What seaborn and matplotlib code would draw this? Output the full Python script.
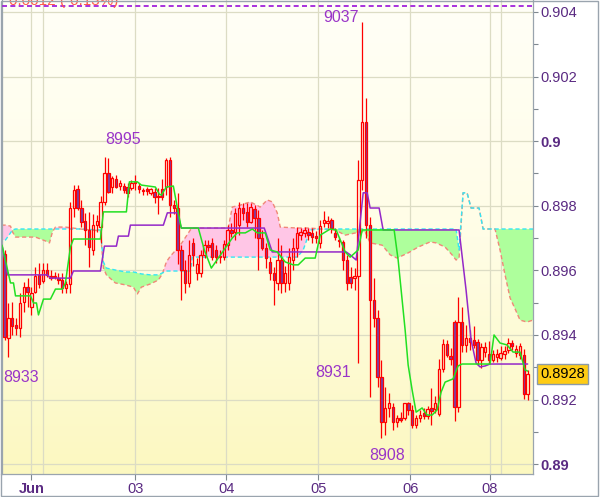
import numpy as np
import pandas as pd
import matplotlib
matplotlib.use("Agg")
import matplotlib.pyplot as plt
import seaborn as sns
from matplotlib.colors import LinearSegmentedColormap
from matplotlib.patches import Rectangle
import matplotlib.transforms as mtransforms

# ---------------- data (prices in pips, i.e. price * 10000) ----------------
opens = [8965.1, 8939.1, 8945.3, 8943.1, 8942.2, 8950.2, 8954.8, 8948.7, 8953.3, 8958.6,
         8956.7, 8960.1, 8958.2, 8957.9, 8957.6, 8957.0, 8954.5, 8955.8, 8979.3, 8985.2,
         8979.3, 8975.3, 8972.5, 8966.3, 8974.0, 8973.4, 8981.2, 8990.1, 8985.8, 8988.3,
         8986.1, 8986.1, 8985.8, 8985.5, 8987.0, 8986.1, 8984.9, 8985.2, 8983.9, 8984.3,
         8983.0, 8985.2, 8985.8, 8994.2, 8980.2, 8979.3, 8966.3, 8960.1, 8956.1, 8968.5,
         8959.2, 8959.2, 8964.7, 8967.8, 8968.5, 8966.3, 8964.0, 8964.0, 8967.8, 8972.5,
         8971.9, 8974.0, 8979.3, 8978.1, 8975.0, 8979.0, 8976.2, 8970.0, 8966.9, 8962.6,
         8959.2, 8956.1, 8963.2, 8956.1, 8956.1, 8963.2, 8966.9, 8970.9, 8971.6, 8971.9,
         8971.6, 8970.6, 8968.5, 8974.7, 8974.7, 8975.6, 8971.6, 8969.4, 8968.9, 8963.2,
         8957.9, 8957.6, 8958.2, 8988.0, 9005.9, 8974.0, 8950.8, 8945.3, 8927.0, 8913.0,
         8917.4, 8917.7, 8913.0, 8914.3, 8914.3, 8919.0, 8916.8, 8912.1, 8914.3, 8915.8,
         8914.9, 8917.4, 8917.1, 8915.5, 8929.5, 8937.3, 8933.6, 8944.0, 8917.7, 8944.0,
         8936.9, 8939.1, 8938.5, 8937.9, 8932.3, 8934.8, 8934.1, 8932.3, 8933.2, 8932.9,
         8934.1, 8935.4, 8937.6, 8934.4, 8933.8, 8933.8, 8921.7]
highs = [8966.3, 8949.9, 8950.2, 8945.3, 8953.0, 8956.4, 8957.6, 8954.8, 8961.0, 8962.3,
         8962.3, 8962.3, 8960.1, 8959.5, 8959.2, 8959.2, 8956.7, 8981.2, 8986.4, 8986.4,
         8981.8, 8977.8, 8978.1, 8977.5, 8977.1, 8983.0, 8995.1, 8994.8, 8989.2, 8989.5,
         8988.0, 8987.0, 8987.0, 8988.0, 8989.5, 8987.0, 8985.5, 8985.8, 8985.5, 8985.5,
         8985.5, 8988.3, 8994.8, 8995.1, 8981.8, 8983.9, 8967.8, 8963.2, 8969.4, 8970.0,
         8963.8, 8966.3, 8969.4, 8969.4, 8970.0, 8967.8, 8966.3, 8969.4, 8974.0, 8974.7,
         8979.3, 8981.2, 8980.8, 8980.8, 8980.8, 8980.2, 8978.7, 8972.5, 8968.5, 8964.1,
         8961.0, 8970.0, 8967.8, 8961.4, 8966.9, 8970.0, 8973.4, 8973.1, 8973.4, 8973.1,
         8973.1, 8972.2, 8975.6, 8978.4, 8976.8, 8976.2, 8973.1, 8970.3, 8969.4, 8964.7,
         8961.0, 8960.7, 8994.2, 9036.9, 9013.4, 8976.5, 8957.6, 8947.7, 8932.3, 8923.9,
         8922.0, 8918.9, 8915.2, 8916.2, 8919.0, 8919.3, 8918.3, 8915.2, 8916.8, 8917.4,
         8918.0, 8923.6, 8921.1, 8932.6, 8938.8, 8938.5, 8936.0, 8944.5, 8951.8, 8948.7,
         8943.1, 8941.6, 8942.8, 8938.8, 8937.6, 8937.9, 8938.2, 8935.4, 8935.7, 8936.6,
         8936.6, 8939.1, 8938.5, 8937.0, 8937.6, 8935.7, 8929.2]
lows = [8938.5, 8933.2, 8940.0, 8940.0, 8939.4, 8947.1, 8948.7, 8946.2, 8953.0, 8954.5,
        8956.1, 8957.9, 8957.0, 8957.3, 8955.8, 8953.0, 8953.0, 8953.0, 8976.5, 8978.7,
        8973.4, 8967.8, 8961.0, 8964.7, 8971.9, 8968.5, 8980.2, 8983.9, 8983.9, 8985.5,
        8984.9, 8983.9, 8982.7, 8984.9, 8984.9, 8983.9, 8983.3, 8983.3, 8983.3, 8980.8,
        8977.5, 8981.8, 8983.3, 8976.5, 8977.5, 8962.0, 8950.9, 8953.0, 8954.8, 8961.4,
        8957.0, 8958.0, 8963.8, 8966.0, 8963.2, 8962.3, 8962.3, 8963.2, 8966.3, 8970.3,
        8969.4, 8971.0, 8975.6, 8973.4, 8974.7, 8970.0, 8960.1, 8966.3, 8960.7, 8957.0,
        8949.3, 8953.9, 8953.0, 8953.3, 8953.9, 8960.1, 8964.1, 8969.4, 8970.3, 8969.4,
        8968.5, 8968.5, 8966.9, 8973.4, 8973.1, 8971.6, 8969.4, 8967.2, 8960.1, 8953.9,
        8954.5, 8953.9, 8931.2, 8985.0, 8970.0, 8920.8, 8942.5, 8923.9, 8908.1, 8909.0,
        8914.6, 8910.6, 8911.6, 8913.0, 8913.7, 8915.2, 8911.2, 8911.2, 8913.0, 8914.0,
        8914.0, 8912.1, 8915.8, 8915.0, 8928.6, 8933.2, 8930.8, 8913.4, 8916.2, 8934.7,
        8934.7, 8935.4, 8935.9, 8930.7, 8929.8, 8933.2, 8931.0, 8931.6, 8931.6, 8932.3,
        8932.6, 8934.4, 8935.4, 8933.2, 8932.6, 8920.2, 8919.9]
closes = [8939.4, 8945.3, 8942.8, 8942.2, 8949.9, 8954.8, 8953.3, 8953.0, 8958.2, 8955.8,
          8960.1, 8958.6, 8957.6, 8958.2, 8957.0, 8954.5, 8955.8, 8979.3, 8984.9, 8979.3,
          8975.0, 8972.5, 8967.2, 8974.0, 8975.3, 8981.2, 8990.1, 8984.3, 8988.6, 8985.8,
          8987.0, 8984.9, 8983.9, 8987.0, 8987.3, 8985.2, 8984.6, 8984.6, 8985.2, 8982.7,
          8982.7, 8982.7, 8994.2, 8980.2, 8979.3, 8966.3, 8960.1, 8956.1, 8964.7, 8964.7,
          8962.0, 8964.7, 8967.8, 8967.2, 8964.0, 8964.0, 8964.3, 8968.2, 8972.5, 8971.6,
          8977.8, 8979.3, 8977.8, 8975.0, 8979.6, 8976.2, 8970.0, 8966.9, 8963.8, 8959.2,
          8957.0, 8963.2, 8956.1, 8959.2, 8964.1, 8966.9, 8971.6, 8971.9, 8972.5, 8970.9,
          8970.3, 8970.0, 8973.7, 8975.6, 8975.3, 8973.1, 8970.3, 8969.1, 8963.2, 8956.1,
          8956.1, 8958.2, 8988.0, 9005.9, 8974.0, 8950.8, 8945.3, 8927.0, 8913.0, 8917.4,
          8918.9, 8913.0, 8914.3, 8913.7, 8919.0, 8916.8, 8912.1, 8914.3, 8915.2, 8914.9,
          8917.1, 8916.5, 8919.0, 8929.5, 8937.3, 8933.9, 8932.6, 8917.7, 8944.0, 8936.9,
          8939.1, 8937.9, 8936.9, 8932.3, 8936.3, 8936.3, 8932.3, 8934.1, 8934.1, 8934.4,
          8935.1, 8937.6, 8936.6, 8935.7, 8936.6, 8921.7, 8928.0]

# Tenkan-sen (green) vertices: bar position, value
tenkan_t = [-0.65, 1.56, 2.34, 2.86, 6.75, 7.53, 8.31, 8.83, 10.13, 11.95, 13.25, 15.06, 15.84,
            17.14, 17.92, 24.94, 25.71, 31.69, 32.47, 34.55, 35.58, 39.22, 40.26, 40.78, 42.08,
            43.9, 44.94, 45.97, 50.39, 51.95, 53.77, 55.58, 57.4, 59.22, 60.52, 62.6, 64.42,
            65.71, 67.79, 69.09, 70.91, 73.0, 75.06, 76.36, 78.18, 80.78, 82.08, 84.68, 86.23,
            88.57, 89.87, 91.95, 92.99, 101.3, 102.34, 103.12, 104.16, 104.94, 105.97, 107.01,
            108.57, 109.87, 111.17, 112.47, 113.51, 114.55, 116.62, 117.92, 118.96, 126.23,
            127.27, 128.83, 130.65, 132.21, 134.03, 135.32, 136.0]
tenkan_v = [8967.8, 8956.1, 8956.1, 8952.1, 8952.1, 8949.9, 8949.9, 8946.2, 8951.1, 8951.1,
            8954.2, 8954.2, 8956.1, 8967.2, 8969.7, 8969.7, 8978.1, 8978.1, 8987.4, 8987.4,
            8986.4, 8985.8, 8983.6, 8983.3, 8985.8, 8986.1, 8979.3, 8973.1, 8973.1, 8966.3,
            8960.7, 8963.8, 8966.9, 8970.0, 8971.6, 8971.6, 8972.8, 8971.6, 8971.6, 8966.3,
            8965.7, 8962.6, 8961.7, 8961.7, 8963.8, 8963.8, 8970.9, 8972.8, 8972.5, 8965.7,
            8964.1, 8966.3, 8972.5, 8972.5, 8963.2, 8953.9, 8941.5, 8930.7, 8923.0, 8916.1,
            8917.4, 8915.2, 8915.2, 8916.8, 8922.3, 8925.4, 8926.4, 8930.4, 8931.0, 8931.0,
            8940.0, 8937.5, 8936.9, 8934.7, 8934.7, 8929.2, 8928.8]

# Kijun-sen (purple) vertices
kijun_t = [-0.6, 0.78, 11.17, 11.95, 17.14, 17.92, 24.94, 25.97, 29.09, 29.61, 32.21, 32.73,
           41.3, 42.34, 44.94, 45.97, 67.53, 69.61, 88.83, 89.87, 91.43, 93.25, 94.29, 95.06,
           97.4, 98.44, 118.18, 120.0, 121.3, 122.6, 123.64, 124.94, 126.23, 136.0]
kijun_v = [8967.5, 8958.6, 8958.6, 8957.6, 8957.6, 8959.8, 8959.8, 8967.5, 8967.5, 8970.6,
           8970.6, 8974.0, 8974.0, 8977.8, 8977.8, 8973.1, 8973.1, 8965.7, 8965.7, 8964.8,
           8963.2, 8984.0, 8984.0, 8979.3, 8979.3, 8972.5, 8972.5, 8953.9, 8938.5, 8931.3,
           8930.1, 8930.4, 8931.0, 8931.0]

# Kumo: Senkou span A (cyan) and B (salmon) on common positions
cloud_t = [-0.78, 0.26, 1.56, 2.08, 2.86, 8.05, 10.65, 11.69, 12.47, 13.25, 15.84, 19.74,
           24.94, 25.71, 26.49, 28.83, 31.43, 33.51, 34.55, 35.58, 37.92, 40.0, 41.04, 42.08,
           43.12, 45.71, 48.31, 48.83, 58.18, 59.22, 61.3, 63.9, 66.49, 68.31, 69.61, 70.91,
           71.69, 76.1, 77.66, 79.48, 82.08, 85.97, 88.57, 92.47, 93.77, 95.06, 98.18, 100.26,
           102.08, 104.94, 107.53, 110.65, 112.21, 114.55, 116.36, 117.4, 118.18, 119.22,
           120.26, 121.3, 123.38, 124.42, 127.53, 128.83, 130.13, 131.43, 132.73, 134.03,
           135.84, 137.4]
span_a = [8969.4, 8969.4, 8971.6, 8972.5, 8972.8, 8972.8, 8972.8, 8972.8, 8972.8, 8972.8,
          8972.8, 8972.8, 8972.5, 8962.6, 8960.7, 8960.1, 8959.5, 8959.5, 8959.2, 8958.9,
          8958.6, 8958.6, 8959.2, 8959.8, 8959.8, 8959.8, 8959.8, 8964.1, 8964.1, 8964.1,
          8964.1, 8964.1, 8964.1, 8964.1, 8964.1, 8964.1, 8964.1, 8964.1, 8966.3, 8972.5,
          8972.8, 8972.8, 8972.8, 8972.8, 8972.8, 8972.8, 8972.8, 8972.8, 8972.8, 8972.8,
          8972.8, 8972.8, 8972.8, 8972.8, 8972.8, 8972.8, 8966.3, 8984.0, 8984.0, 8979.3,
          8979.3, 8972.8, 8972.8, 8972.8, 8972.8, 8972.8, 8972.8, 8972.8, 8972.8, 8972.8]
span_b = [8974.0, 8974.0, 8973.7, 8971.9, 8970.3, 8970.3, 8969.1, 8968.5, 8971.9, 8973.4,
          8973.4, 8972.8, 8972.2, 8960.7, 8958.6, 8956.1, 8955.5, 8954.8, 8952.7, 8954.8,
          8955.8, 8957.0, 8958.9, 8962.6, 8964.4, 8967.8, 8972.5, 8973.1, 8973.1, 8979.6,
          8980.2, 8981.2, 8979.6, 8981.8, 8981.2, 8977.8, 8973.4, 8973.1, 8973.1, 8973.1,
          8972.8, 8972.5, 8970.9, 8971.9, 8971.9, 8968.5, 8967.8, 8964.8, 8963.8, 8965.4,
          8967.2, 8968.8, 8968.5, 8967.2, 8964.8, 8963.2, 8963.8, 8984.0, 8984.0, 8979.3,
          8979.3, 8972.8, 8972.8, 8966.3, 8958.6, 8951.5, 8948.1, 8944.6, 8944.0, 8944.6]

# x axis (bar positions of day boundaries)
day_pos = [7.0, 34.0, 57.7, 81.6, 105.5, 126.2]
day_labels = ["Jun", "03", "04", "05", "06", "08"]
extra_grid = [9.9, 129.1]

# high/low annotations: text, bar position, price
hl_text = ["8995", "9037", "8933", "8931", "8908"]
hl_pos = [30.9, 87.5, 4.2, 85.4, 99.5]
hl_val = [9000.6, 9038.2, 8926.7, 8928.5, 8902.6]

last_price = 0.8928
top_level = 0.90418

# ---------------- styling ----------------
sns.set_theme(style="white")
plt.rcParams["font.family"] = ["Liberation Sans", "DejaVu Sans"]

RED = "#ff0000"
DOWN_FILL = "#7a3fa6"
GREEN = "#22e022"
PURPLE = "#9428c8"
CYAN = "#33e6f5"
SALMON = "#f08878"
KUMO_GREEN = "#aeff9c"
KUMO_PINK = "#ffc6e6"
GRID = "#dcdcc4"
FRAME = "#9aa4ae"
LABEL = "#5a2a82"

fig = plt.figure(figsize=(6.0, 4.97), dpi=100)
fig.patch.set_facecolor("white")
ax = fig.add_axes([1.5 / 600, 1 - 474 / 497, 531.5 / 600, 474 / 497])

# background gradient
grad = np.linspace(0, 1, 256).reshape(-1, 1)
bg = LinearSegmentedColormap.from_list("bg", ["#fcf8c0", "#fffde6", "#fffff7"])
ax.imshow(grad, extent=[0, 1, 0, 1], transform=ax.transAxes, aspect="auto",
          origin="lower", cmap=bg, zorder=0)

o = np.array(opens) / 1e4
h = np.array(highs) / 1e4
l = np.array(lows) / 1e4
c = np.array(closes) / 1e4
idx = np.arange(len(o))

# cloud
ct = np.array(cloud_t)
sa = np.array(span_a) / 1e4
sb = np.array(span_b) / 1e4
ax.fill_between(ct, sa, sb, where=sa >= sb, interpolate=True, color=KUMO_GREEN, lw=0, zorder=1)
ax.fill_between(ct, sa, sb, where=sa < sb, interpolate=True, color=KUMO_PINK, lw=0, zorder=1)
cloud_df = pd.DataFrame({"t": ct, "a": sa, "b": sb})
sns.lineplot(data=cloud_df, x="t", y="b", ax=ax, color=SALMON, lw=1.0,
             linestyle=(0, (3, 2)), zorder=2, estimator=None, sort=False)
sns.lineplot(data=cloud_df, x="t", y="a", ax=ax, color=CYAN, lw=1.0,
             linestyle=(2.5, (3, 2)), zorder=2, estimator=None, sort=False)

# candles
up = c >= o
top = np.maximum(o, c)
bot = np.minimum(o, c)
ax.vlines(idx, top, h, color=RED, lw=0.9, zorder=3)
ax.vlines(idx, l, bot, color=RED, lw=0.9, zorder=3)
ax.bar(idx[up], (top - bot)[up], bottom=bot[up], width=0.62, facecolor="none",
       edgecolor=RED, linewidth=0.9, zorder=3)
ax.bar(idx[~up], (top - bot)[~up], bottom=bot[~up], width=0.62, facecolor=DOWN_FILL,
       edgecolor=RED, linewidth=0.9, zorder=3)

# tenkan / kijun
tk = pd.DataFrame({"t": tenkan_t, "v": np.array(tenkan_v) / 1e4})
kj = pd.DataFrame({"t": kijun_t, "v": np.array(kijun_v) / 1e4})
sns.lineplot(data=kj, x="t", y="v", ax=ax, color=PURPLE, lw=1.1, zorder=4,
             estimator=None, sort=False)
sns.lineplot(data=tk, x="t", y="v", ax=ax, color=GREEN, lw=1.1, zorder=4,
             estimator=None, sort=False)

# top dashed level
ax.axhline(top_level, color="#9a10d8", lw=1.2, linestyle=(0, (3, 2)), zorder=4)

# high / low labels
for txt, px, pv in zip(hl_text, hl_pos, hl_val):
    ax.text(px, pv / 1e4, txt, color="#9a35c8", fontsize=11.5, ha="center", va="center",
            zorder=5)

# change text at top-left (partially cut by the top edge, as in the original)
ax.text(0.004, 1 - 5 / 474, "-0.0012 (-0.13%)", transform=ax.transAxes, color="#ff5a4a",
        fontsize=11, ha="left", va="baseline", zorder=5, clip_on=True)

# axes limits
ax.set_xlim(-0.78, 137.4)
ax.set_ylim(0.889695, 0.90437)

# y axis on right
ax.yaxis.tick_right()
yt = [0.890, 0.892, 0.894, 0.896, 0.898, 0.900, 0.902, 0.904]
ytl = ["0.89", "0.892", "0.894", "0.896", "0.898", "0.9", "0.902", "0.904"]
ax.set_yticks(yt)
ax.set_yticklabels(ytl)
ax.set_yticks([0.891, 0.893, 0.895, 0.897, 0.899, 0.901, 0.903], minor=True)
ax.tick_params(axis="y", which="both", right=True, left=False, length=3.5, width=0.8,
               color="#7f8890", labelsize=10.5, labelcolor=LABEL, pad=2)
for lab in ax.get_yticklabels():
    if lab.get_text() in ("0.9", "0.89"):
        lab.set_fontweight("bold")

ax.set_xticks(day_pos)
ax.set_xticklabels(day_labels)
ax.set_xticks(extra_grid, minor=True)
ax.tick_params(axis="x", which="major", bottom=True, length=4, width=0.8, color="#7f8890",
               labelsize=10.5, labelcolor=LABEL, pad=2)
ax.tick_params(axis="x", which="minor", bottom=False, length=0)
for lab in ax.get_xticklabels():
    if lab.get_text() == "Jun":
        lab.set_fontweight("bold")

ax.grid(True, axis="x", which="both", color=GRID, lw=0.9)
ax.grid(True, axis="y", which="major", color=GRID, lw=0.9)
ax.set_axisbelow(True)
ax.set_xlabel("")
ax.set_ylabel("")

for s in ax.spines.values():
    s.set_color(FRAME)
    s.set_linewidth(0.9)
ax.spines["top"].set_visible(False)

# last price box
trans = mtransforms.blended_transform_factory(ax.transAxes, ax.transData)
ax.text(1.0135, last_price, "0.8928", transform=trans, color="black", fontsize=10.5,
        ha="left", va="center", zorder=6, clip_on=False,
        bbox=dict(boxstyle="square,pad=0.22", fc="#ffcc14", ec="#8c9aa8", lw=1.0))

# outer frame
fig.patches.append(Rectangle((0.001, 0.003), 0.996, 0.995, transform=fig.transFigure,
                             fill=False, ec=FRAME, lw=1.0))

fig.savefig("out.png", dpi=100)
